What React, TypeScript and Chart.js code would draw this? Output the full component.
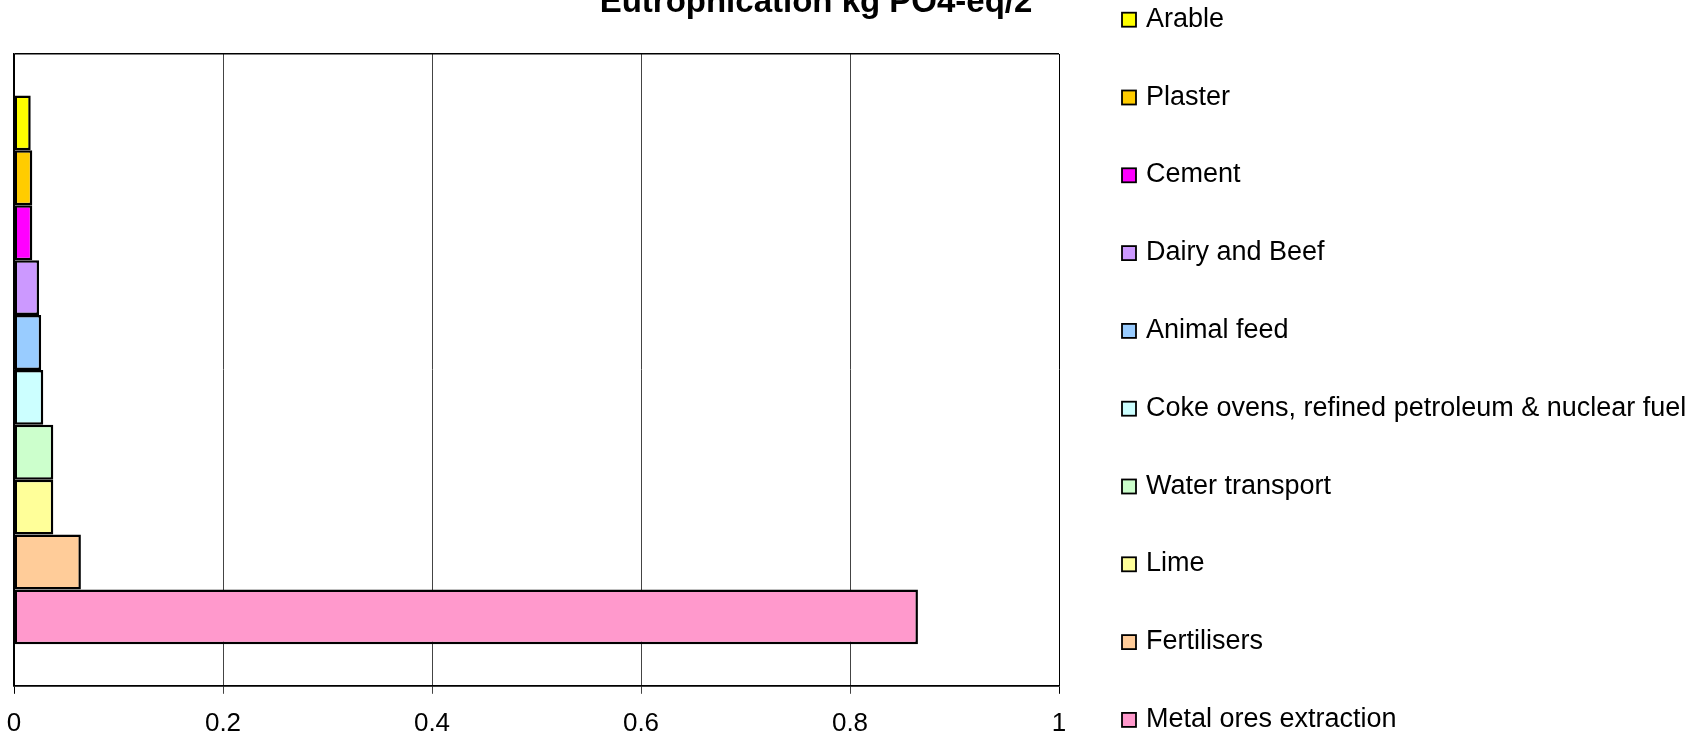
import React, { useEffect, useRef } from "react";
import { Chart, registerables } from "chart.js";

Chart.register(...registerables);

const FONT = "'Liberation Sans', Arial, sans-serif";

const chartTitle = "Eutrophication kg PO4-eq/2";
const categories = [
  "Arable",
  "Plaster",
  "Cement",
  "Dairy and Beef",
  "Animal feed",
  "Coke ovens, refined petroleum & nuclear fuel",
  "Water transport",
  "Lime",
  "Fertilisers",
  "Metal ores extraction",
];
const values = [0.016, 0.0175, 0.0175, 0.024, 0.026, 0.028, 0.0376, 0.0376, 0.064, 0.865];
const colors = [
  "#FFFF00",
  "#FFCC00",
  "#FF00FF",
  "#CC99FF",
  "#99CCFF",
  "#CCFFFF",
  "#CCFFCC",
  "#FFFF99",
  "#FFCC99",
  "#FF99CC",
];
const xTickValues = [0, 0.2, 0.4, 0.6, 0.8, 1];
const xTickLabels = ["0", "0.2", "0.4", "0.6", "0.8", "1"];

const overlayPlugin = {
  id: "overlay",
  afterDraw(chart: any) {
    const ctx = chart.ctx as CanvasRenderingContext2D;
    ctx.save();
    // title (partly cut off at the top, as in the reference)
    ctx.font = `bold 33px ${FONT}`;
    ctx.fillStyle = "#000";
    ctx.textAlign = "center";
    ctx.textBaseline = "alphabetic";
    ctx.fillText(chartTitle, 816, 12);
    // legend
    ctx.font = `27px ${FONT}`;
    ctx.textAlign = "left";
    chart.data.datasets.forEach((ds: any, i: number) => {
      const base = 26.7 + i * 77.8;
      ctx.fillStyle = ds.backgroundColor;
      ctx.fillRect(1122, base - 14, 14, 14);
      ctx.strokeStyle = "#000";
      ctx.lineWidth = 1.8;
      ctx.strokeRect(1122, base - 14, 14, 14);
      ctx.fillStyle = "#000";
      ctx.fillText(ds.label, 1146, base);
    });
    ctx.restore();
  },
};

export default function App() {
  const canvasRef = useRef<HTMLCanvasElement | null>(null);

  useEffect(() => {
    if (!canvasRef.current) return;
    const chart = new Chart(canvasRef.current, {
      type: "bar",
      data: {
        labels: [""],
        datasets: categories.map((name, i) => ({
          label: name,
          data: [values[i]],
          backgroundColor: colors[i],
          borderColor: "#000",
          borderWidth: 2.5,
          borderSkipped: false,
          categoryPercentage: 0.8687,
          barPercentage: 1,
        })),
      },
      options: {
        indexAxis: "y",
        animation: false,
        responsive: true,
        maintainAspectRatio: false,
        layout: { padding: { top: 54, left: 14, right: 647, bottom: -15 } },
        plugins: {
          legend: { display: false },
          title: { display: false },
          tooltip: { enabled: false },
        },
        scales: {
          x: {
            type: "linear",
            min: 0,
            max: 1,
            afterBuildTicks: (scale: any) => {
              scale.ticks = xTickValues.map((v) => ({ value: v }));
            },
            afterFit: (scale: any) => {
              scale.paddingLeft = 0;
              scale.paddingRight = 0;
            },
            ticks: {
              padding: 14,
              color: "#000",
              font: { family: FONT, size: 26 },
              callback: (_v: any, i: number) => xTickLabels[i],
              maxRotation: 0,
            },
            grid: {
              color: (c: any) => (c.index === 0 || c.index === xTickValues.length - 1 ? "#000" : "#444"),
              lineWidth: 1,
              tickLength: 8,
            },
            border: { display: true, color: "#000", width: 1.5 },
          },
          y: {
            type: "category",
            afterFit: (scale: any) => {
              scale.width = 0;
            },
            ticks: { display: false },
            grid: { display: true, offset: true, drawTicks: false, color: "#000", lineWidth: 1.5 },
            border: { display: true, color: "#000", width: 1.5 },
          },
        },
      },
      plugins: [overlayPlugin],
    } as any);
    return () => chart.destroy();
  }, []);

  return (
    <div style={{ position: "absolute", left: 0, top: 0, width: 1706, height: 738, background: "#fff" }}>
      <canvas ref={canvasRef} />
    </div>
  );
}
